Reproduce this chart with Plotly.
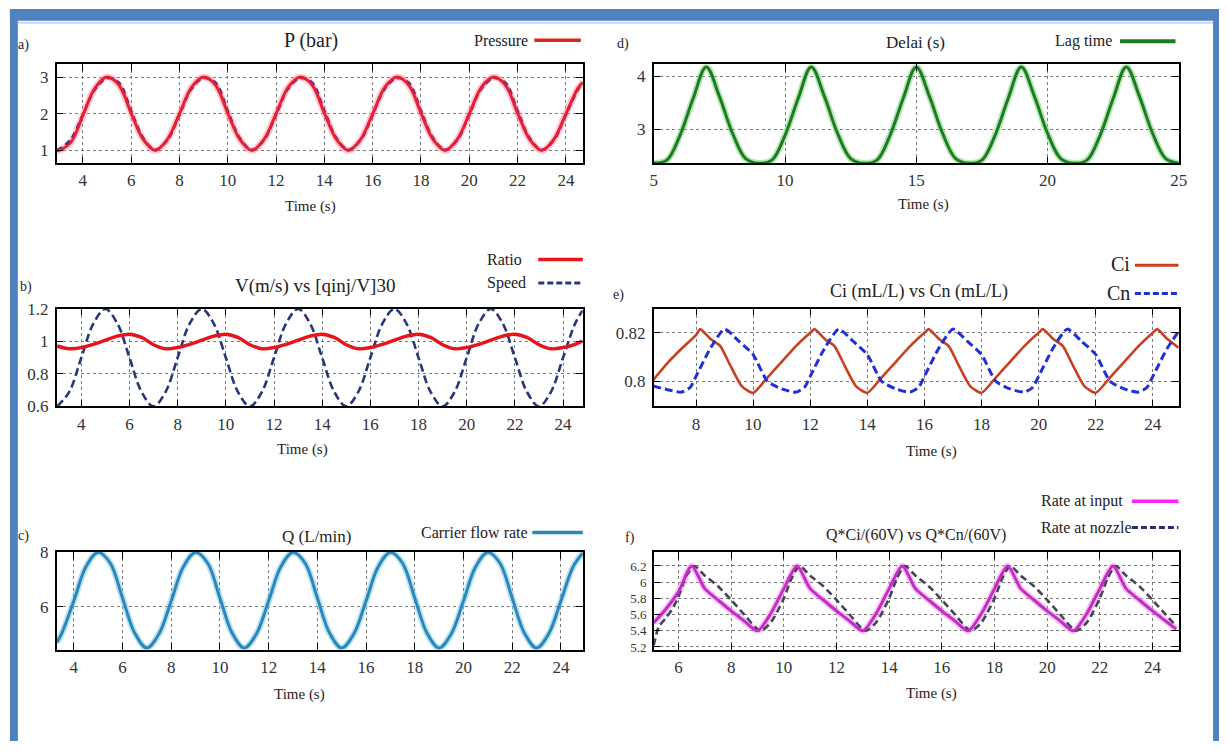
import plotly.graph_objects as go

W, H = 1228, 751
SERIF = "Liberation Serif"

# ---------------- a) pressure ----------------
time_a = [2.92, 3.0, 3.5, 4.0, 4.5, 5.0, 5.5, 6.0, 6.5,
          7.0, 7.5, 8.0, 8.5, 9.0, 9.5, 10.0, 10.5,
          11.0, 11.5, 12.0, 12.5, 13.0, 13.5, 14.0, 14.5,
          15.0, 15.5, 16.0, 16.5, 17.0, 17.5, 18.0, 18.5,
          19.0, 19.5, 20.0, 20.5, 21.0, 21.5, 22.0, 22.5,
          23.0, 23.5, 24.0, 24.5, 24.7]
pressure = [1.0, 1.0, 1.22, 1.95, 2.7, 3.0, 2.78, 2.02, 1.3,
            1.0, 1.3, 2.0, 2.72, 3.0, 2.78, 2.02, 1.3,
            1.0, 1.3, 2.0, 2.72, 3.0, 2.78, 2.02, 1.3,
            1.0, 1.3, 2.0, 2.72, 3.0, 2.78, 2.02, 1.3,
            1.0, 1.3, 2.0, 2.72, 3.0, 2.78, 2.02, 1.3,
            1.0, 1.3, 2.0, 2.7, 2.86]
pressure_cmd = [1.03, 1.03, 1.3, 1.98, 2.66, 2.97, 2.84, 2.08, 1.34,
                1.02, 1.28, 1.97, 2.68, 2.97, 2.84, 2.08, 1.34,
                1.02, 1.28, 1.97, 2.68, 2.97, 2.84, 2.08, 1.34,
                1.02, 1.28, 1.97, 2.68, 2.97, 2.84, 2.08, 1.34,
                1.02, 1.28, 1.97, 2.68, 2.97, 2.84, 2.08, 1.34,
                1.02, 1.28, 1.97, 2.66, 2.83]

# ---------------- b) ratio vs speed ----------------
time_b = [3.0, 3.5, 4.0, 4.5, 5.0, 5.5, 6.0, 6.5,
          7.0, 7.5, 8.0, 8.5, 9.0, 9.5, 10.0, 10.5,
          11.0, 11.5, 12.0, 12.5, 13.0, 13.5, 14.0, 14.5,
          15.0, 15.5, 16.0, 16.5, 17.0, 17.5, 18.0, 18.5,
          19.0, 19.5, 20.0, 20.5, 21.0, 21.5, 22.0, 22.5,
          23.0, 23.5, 24.0, 24.5, 24.8]
ratio = [0.972, 0.955, 0.962, 0.982, 1.008, 1.033, 1.045, 1.025,
         0.98, 0.955, 0.962, 0.982, 1.008, 1.033, 1.045, 1.025,
         0.98, 0.955, 0.962, 0.982, 1.008, 1.033, 1.045, 1.025,
         0.98, 0.955, 0.962, 0.982, 1.008, 1.033, 1.045, 1.025,
         0.98, 0.955, 0.962, 0.982, 1.008, 1.033, 1.045, 1.025,
         0.98, 0.955, 0.962, 0.982, 1.003]
speed = [0.6, 0.69, 0.9, 1.11, 1.2, 1.11, 0.9, 0.69,
         0.6, 0.69, 0.9, 1.11, 1.2, 1.11, 0.9, 0.69,
         0.6, 0.69, 0.9, 1.11, 1.2, 1.11, 0.9, 0.69,
         0.6, 0.69, 0.9, 1.11, 1.2, 1.11, 0.9, 0.69,
         0.6, 0.69, 0.9, 1.11, 1.2, 1.11, 0.9, 0.69,
         0.6, 0.69, 0.9, 1.11, 1.19]

# ---------------- c) carrier flow ----------------
time_c = [3.3, 3.5, 4.0, 4.5, 5.0, 5.5, 6.0, 6.5,
          7.0, 7.5, 8.0, 8.5, 9.0, 9.5, 10.0, 10.5,
          11.0, 11.5, 12.0, 12.5, 13.0, 13.5, 14.0, 14.5,
          15.0, 15.5, 16.0, 16.5, 17.0, 17.5, 18.0, 18.5,
          19.0, 19.5, 20.0, 20.5, 21.0, 21.5, 22.0, 22.5,
          23.0, 23.5, 24.0, 24.5, 24.9]
flow = [4.7, 5.02, 6.22, 7.47, 8.0, 7.6, 6.33, 5.05,
        4.5, 5.02, 6.22, 7.47, 8.0, 7.6, 6.33, 5.05,
        4.5, 5.02, 6.22, 7.47, 8.0, 7.6, 6.33, 5.05,
        4.5, 5.02, 6.22, 7.47, 8.0, 7.6, 6.33, 5.05,
        4.5, 5.02, 6.22, 7.47, 8.0, 7.6, 6.33, 5.05,
        4.5, 5.02, 6.22, 7.47, 7.98]

# ---------------- d) lag time ----------------
time_d = [5.0, 5.5, 6.0, 6.5, 7.0, 7.5, 8.0, 8.5,
          9.0, 9.5, 10.0, 10.5, 11.0, 11.5, 12.0, 12.5,
          13.0, 13.5, 14.0, 14.5, 15.0, 15.5, 16.0, 16.5,
          17.0, 17.5, 18.0, 18.5, 19.0, 19.5, 20.0, 20.5,
          21.0, 21.5, 22.0, 22.5, 23.0, 23.5, 24.0, 24.5, 25.0]
lag = [2.35, 2.41, 2.88, 3.58, 4.18, 3.62, 2.92, 2.44,
       2.35, 2.41, 2.88, 3.58, 4.18, 3.62, 2.92, 2.44,
       2.35, 2.41, 2.88, 3.58, 4.18, 3.62, 2.92, 2.44,
       2.35, 2.41, 2.88, 3.58, 4.18, 3.62, 2.92, 2.44,
       2.35, 2.41, 2.88, 3.58, 4.18, 3.62, 2.92, 2.44, 2.35]

# ---------------- e) concentrations ----------------
time_ci = [6.5, 7.0, 7.5, 8.0, 8.15, 8.5, 8.85, 9.2, 9.6, 10.0,
           10.5, 11.0, 11.5, 12.0, 12.15, 12.5, 12.85, 13.2, 13.6, 14.0,
           14.5, 15.0, 15.5, 16.0, 16.15, 16.5, 16.85, 17.2, 17.6, 18.0,
           18.5, 19.0, 19.5, 20.0, 20.15, 20.5, 20.85, 21.2, 21.6, 22.0,
           22.5, 23.0, 23.5, 24.0, 24.15, 24.5, 24.9]
conc_ci = [0.8005, 0.8075, 0.8135, 0.819, 0.8215, 0.8175, 0.8145, 0.8065, 0.798, 0.7952,
           0.8015, 0.808, 0.8145, 0.82, 0.8215, 0.8175, 0.8145, 0.8065, 0.798, 0.7952,
           0.8015, 0.808, 0.8145, 0.82, 0.8215, 0.8175, 0.8145, 0.8065, 0.798, 0.7952,
           0.8015, 0.808, 0.8145, 0.82, 0.8215, 0.8175, 0.8145, 0.8065, 0.798, 0.7952,
           0.8015, 0.808, 0.8145, 0.82, 0.8215, 0.8175, 0.8138]
time_cn = [6.5, 7.0,
           7.5, 7.8, 8.0, 8.5, 9.0, 9.5, 10.0, 10.5, 11.0,
           11.5, 11.8, 12.0, 12.5, 13.0, 13.5, 14.0, 14.5, 15.0,
           15.5, 15.8, 16.0, 16.5, 17.0, 17.5, 18.0, 18.5, 19.0,
           19.5, 19.8, 20.0, 20.5, 21.0, 21.5, 22.0, 22.5, 23.0,
           23.5, 23.8, 24.0, 24.5, 24.9]
conc_cn = [0.798, 0.7965,
           0.7955, 0.7975, 0.802, 0.8135, 0.8215, 0.8165, 0.811, 0.80, 0.7968,
           0.7955, 0.7975, 0.802, 0.8135, 0.8215, 0.8165, 0.811, 0.80, 0.7968,
           0.7955, 0.7975, 0.802, 0.8135, 0.8215, 0.8165, 0.811, 0.80, 0.7968,
           0.7955, 0.7975, 0.802, 0.8135, 0.8215, 0.8165, 0.811, 0.80, 0.7968,
           0.7955, 0.7975, 0.802, 0.8135, 0.8205]

# ---------------- f) injection rates ----------------
time_in = [5.06, 5.5, 6.0, 6.5, 7.0, 7.5, 8.0, 8.5,
           9.0, 9.5, 10.0, 10.5, 11.0, 11.5, 12.0, 12.5,
           13.0, 13.5, 14.0, 14.5, 15.0, 15.5, 16.0, 16.5,
           17.0, 17.5, 18.0, 18.5, 19.0, 19.5, 20.0, 20.5,
           21.0, 21.5, 22.0, 22.5, 23.0, 23.5, 24.0, 24.5, 24.9]
rate_in = [5.5, 5.66, 5.88, 6.2, 5.92, 5.78, 5.645, 5.52,
           5.4, 5.61, 5.92, 6.2, 5.92, 5.78, 5.645, 5.52,
           5.4, 5.61, 5.92, 6.2, 5.92, 5.78, 5.645, 5.52,
           5.4, 5.61, 5.92, 6.2, 5.92, 5.78, 5.645, 5.52,
           5.4, 5.61, 5.92, 6.2, 5.92, 5.78, 5.645, 5.52, 5.42]
time_noz = [5.06, 5.25, 5.5, 5.75, 6.0, 6.3, 6.6, 7.0, 7.5, 8.0, 8.5,
            9.1, 9.5, 10.0, 10.3, 10.6, 11.0, 11.5, 12.0, 12.5,
            13.1, 13.5, 14.0, 14.3, 14.6, 15.0, 15.5, 16.0, 16.5,
            17.1, 17.5, 18.0, 18.3, 18.6, 19.0, 19.5, 20.0, 20.5,
            21.1, 21.5, 22.0, 22.3, 22.6, 23.0, 23.5, 24.0, 24.5, 24.9]
rate_noz = [5.22, 5.45, 5.55, 5.66, 5.82, 6.08, 6.2, 6.08, 5.95, 5.78, 5.6,
            5.4, 5.5, 5.8, 6.05, 6.2, 6.08, 5.95, 5.78, 5.6,
            5.4, 5.5, 5.8, 6.05, 6.2, 6.08, 5.95, 5.78, 5.6,
            5.4, 5.5, 5.8, 6.05, 6.2, 6.08, 5.95, 5.78, 5.6,
            5.4, 5.5, 5.8, 6.05, 6.2, 6.08, 5.95, 5.78, 5.6, 5.46]


def fx(x):
    return x / W


def fy(y):
    return 1 - y / H


fig = go.Figure()


def curve(x, y, ax, color, width, dash="solid", smoothing=1.0):
    fig.add_trace(go.Scatter(
        x=x, y=y, xaxis="x" + ax, yaxis="y" + ax, mode="lines",
        line=dict(color=color, width=width, dash=dash, shape="spline",
                  smoothing=smoothing),
        showlegend=False, hoverinfo="skip"))


# a)
curve(time_a, pressure, "", "rgba(255,140,160,0.45)", 7)
curve(time_a, pressure_cmd, "", "#2c2c9c", 2.5, "6px,4px")
curve(time_a, pressure, "", "#e61f33", 3)
# d)
curve(time_d, lag, "2", "rgba(120,215,120,0.55)", 6.5)
curve(time_d, lag, "2", "#1f7a22", 3)
# b)
curve(time_b, speed, "3", "#27377a", 2.6, "8px,4px")
curve(time_b, ratio, "3", "#e8141c", 3.5)
# e)
curve(time_ci, conc_ci, "4", "#c8401e", 2.6, smoothing=0.6)
curve(time_cn, conc_cn, "4", "#2030d8", 3, "8px,4px", smoothing=0.6)
# c)
curve(time_c, flow, "5", "rgba(120,200,235,0.5)", 6.5)
curve(time_c, flow, "5", "#2a87b8", 3)
# f)
curve(time_in, rate_in, "6", "rgba(240,140,240,0.5)", 6.5, smoothing=0.7)
curve(time_noz, rate_noz, "6", "#45455a", 2.6, "7px,4px", smoothing=0.7)
curve(time_in, rate_in, "6", "#c42cc4", 3, smoothing=0.7)

LEFT = [fx(53.3), fx(585.0)]
RIGHT = [fx(656.7), fx(1187.4)]
ROW1 = [fy(158.3), fy(56.7)]
ROW2 = [fy(407.7), fy(307.3)]
ROW3 = [fy(657.5), fy(556.9)]


def axis(domain, rng, tickvals, anchor, is_x, ticktext=None, size=17):
    d = dict(domain=domain, range=rng, tickvals=tickvals, anchor=anchor,
             showline=True, linecolor="black", linewidth=1.5, mirror="ticks",
             ticks="inside", ticklen=7, tickcolor="black", tickwidth=1,
             showgrid=True, gridcolor="#7a7a7a", griddash="dot", gridwidth=1,
             zeroline=False, fixedrange=True,
             tickfont=dict(family=SERIF, size=size, color="#333333"))
    if ticktext is not None:
        d["ticktext"] = ticktext
    d["ticklabelstandoff"] = 1 if is_x else 3
    return d


xt_246 = [4, 6, 8, 10, 12, 14, 16, 18, 20, 22, 24]
layout_axes = dict(
    xaxis=axis(LEFT, [2.92, 24.7], xt_246, "y", True),
    yaxis=axis(ROW1, [0.65, 3.35], [1, 2, 3], "x", False),
    xaxis2=axis(RIGHT, [5, 25], [5, 10, 15, 20, 25], "y2", True),
    yaxis2=axis(ROW1, [2.35, 4.23], [3, 4], "x2", False),
    xaxis3=axis(LEFT, [2.98, 24.82], xt_246, "y3", True),
    yaxis3=axis(ROW2, [0.6, 1.203], [0.6, 0.8, 1.0, 1.2], "x3", False,
                ["0.6", "0.8", "1", "1.2"]),
    xaxis4=axis(RIGHT, [6.52, 24.91], [8, 10, 12, 14, 16, 18, 20, 22, 24], "y4", True),
    yaxis4=axis(ROW2, [0.7896, 0.83], [0.8, 0.82], "x4", False, ["0.8", "0.82"]),
    xaxis5=axis(LEFT, [3.3, 24.9], xt_246, "y5", True),
    yaxis5=axis(ROW3, [4.43, 8.02], [6, 8], "x5", False),
    xaxis6=axis(RIGHT, [5.06, 25], [6, 8, 10, 12, 14, 16, 18, 20, 22, 24], "y6", True),
    yaxis6=axis(ROW3, [5.164, 6.375], [5.2, 5.4, 5.6, 5.8, 6.0, 6.2], "x6", False,
                ["5.2", "5.4", "5.6", "5.8", "6", "6.2"], size=13),
)

fig.update_layout(width=W, height=H, margin=dict(l=0, r=0, t=0, b=0),
                  paper_bgcolor="white", plot_bgcolor="white",
                  showlegend=False, **layout_axes)


def label(x, y, text, size, anchor="center", color="#222222"):
    fig.add_annotation(x=fx(x), y=fy(y), xref="paper", yref="paper", text=text,
                       showarrow=False, xanchor=anchor, yanchor="middle",
                       font=dict(family=SERIF, size=size, color=color))


def key_line(x0, x1, y, color, width, dash="solid"):
    fig.add_shape(type="line", xref="paper", yref="paper",
                  x0=fx(x0), x1=fx(x1), y0=fy(y), y1=fy(y),
                  line=dict(color=color, width=width, dash=dash))


# panel letters, titles, keys, x-axis titles
label(20, 37, "a)", 14)
label(310, 32, "P (bar)", 20)
label(532, 32, "Pressure", 16, "right")
key_line(536, 583, 32, "#d42a1e", 3.5)
label(310, 203, "Time (s)", 15)

label(626, 36, "d)", 14)
label(921, 34, "Delai (s)", 17)
label(1122, 33, "Lag time", 16, "right")
key_line(1128, 1184, 33, "#1f7a22", 4)
label(929, 201, "Time (s)", 15)

label(22, 285, "b)", 14)
label(314, 284, "V(m/s) vs [qinj/V]30", 19)
label(486, 257, "Ratio", 16, "left")
key_line(540, 585, 257, "#e8141c", 3.5)
label(486, 281, "Speed", 16, "left")
key_line(540, 585, 281, "#27377a", 3, "6px,3px")
label(302, 452, "Time (s)", 15)

label(621, 293, "e)", 14)
label(925, 290, "Ci (mL/L) vs Cn (mL/L)", 18)
label(1140, 262, "Ci", 20, "right")
key_line(1143, 1187, 263, "#c8401e", 3)
label(1140, 291, "Cn", 20, "right")
key_line(1143, 1187, 292, "#2030d8", 3, "6px,3px")
label(937, 454, "Time (s)", 15)

label(20, 541, "c)", 14)
label(316, 541, "Q (L/min)", 17)
label(532, 537, "Carrier flow rate", 16, "right")
key_line(534, 585, 537, "#2a87b8", 3.5)
label(299, 703, "Time (s)", 15)

label(633, 543, "f)", 14)
label(922, 540, "Q*Ci/(60V) vs Q*Cn/(60V)", 16)
label(1046, 505, "Rate at input", 16, "left")
key_line(1140, 1187, 505, "#ff20ff", 3.5)
label(1046, 532, "Rate at nozzle", 16, "left")
key_line(1140, 1187, 532, "#26306e", 3, "6px,3px")
label(937, 702, "Time (s)", 15)

# blue page frame
FRAME = "rgb(79,129,189)"
for x0, y0, x1, y1 in [(6, 0, 1228, 12), (6, 0, 14, 751), (1222, 0, 1228, 751)]:
    fig.add_shape(type="rect", xref="paper", yref="paper",
                  x0=fx(x0), x1=fx(x1), y0=fy(y1), y1=fy(y0),
                  fillcolor=FRAME, line=dict(width=0), layer="above")
fig.add_shape(type="line", xref="paper", yref="paper",
              x0=fx(14), x1=fx(1222), y0=fy(14), y1=fy(14),
              line=dict(color="rgb(200,215,235)", width=2))

fig.write_html("out.html")
